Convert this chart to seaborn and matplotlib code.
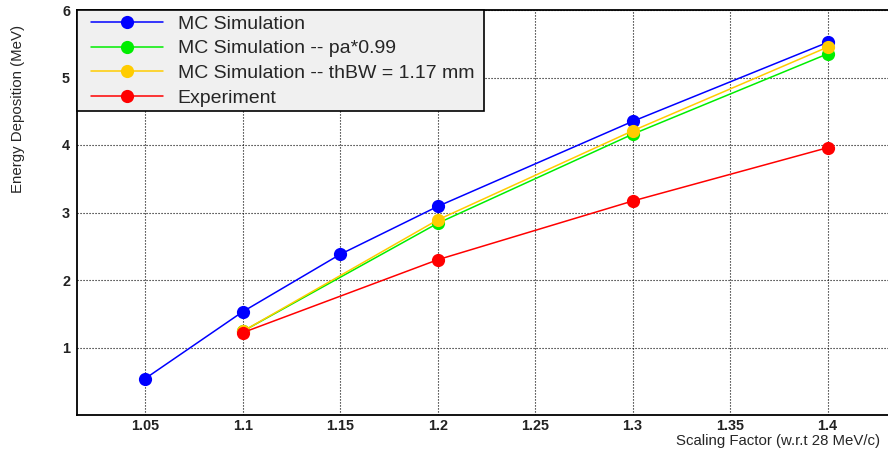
import numpy as np
import pandas as pd
import matplotlib
matplotlib.use("Agg")
import matplotlib.pyplot as plt
from matplotlib.lines import Line2D
from matplotlib.patches import Rectangle
from matplotlib.ticker import MultipleLocator
import seaborn as sns

# Energy deposition vs. momentum scaling factor
series_names = [
    "MC Simulation",
    "MC Simulation -- pa*0.99",
    "MC Simulation -- thBW = 1.17 mm",
    "Experiment",
]
series_colors = ["#0000ff", "#00ee00", "#ffcc00", "#ff0000"]

scale_mc = [1.05, 1.10, 1.15, 1.20, 1.30, 1.40]
edep_mc = [0.54, 1.53, 2.38, 3.09, 4.35, 5.52]

scale_pa = [1.10, 1.20, 1.30, 1.40]
edep_pa = [1.24, 2.84, 4.16, 5.35]

scale_thbw = [1.10, 1.20, 1.30, 1.40]
edep_thbw = [1.24, 2.89, 4.21, 5.45]

scale_exp = [1.10, 1.20, 1.30, 1.40]
edep_exp = [1.22, 2.30, 3.17, 3.96]

frames = []
for name, xs, ys in zip(series_names,
                        [scale_mc, scale_pa, scale_thbw, scale_exp],
                        [edep_mc, edep_pa, edep_thbw, edep_exp]):
    frames.append(pd.DataFrame({"scale": xs, "edep": ys, "series": name}))
df = pd.concat(frames, ignore_index=True)

sns.set_style("white")
plt.rcParams["font.family"] = ["Liberation Sans", "DejaVu Sans"]

W, H = 888, 454
fig = plt.figure(figsize=(W / 100, H / 100), dpi=100)
ax = fig.add_axes([77 / W, 39 / H, 811 / W, 405 / H])

palette = dict(zip(series_names, series_colors))
sns.lineplot(data=df, x="scale", y="edep", hue="series", hue_order=series_names,
             palette=palette, marker="o", markersize=9.5, markeredgewidth=0,
             linewidth=1.1, legend=False, ax=ax, zorder=3)

ax.set_xlim(1.015, 1.431)
ax.set_ylim(0, 6)

ax.xaxis.set_minor_locator(MultipleLocator(0.01))
ax.yaxis.set_minor_locator(MultipleLocator(0.2))
ax.set_xticks([1.05, 1.1, 1.15, 1.2, 1.25, 1.3, 1.35, 1.4])
ax.set_xticklabels(["1.05", "1.1", "1.15", "1.2", "1.25", "1.3", "1.35", "1.4"])
ax.set_yticks([1, 2, 3, 4, 5, 6])
ax.set_yticklabels(["1", "2", "3", "4", "5", "6"])

ax.tick_params(axis="both", which="both", direction="in", color="black",
               width=1.1, top=False, right=False)
ax.tick_params(axis="y", which="major", length=16.5, pad=5, labelsize=10.4)
ax.tick_params(axis="y", which="minor", length=8.5)
ax.tick_params(axis="x", which="major", length=10.8, pad=3, labelsize=10.4)
ax.tick_params(axis="x", which="minor", length=5)
for lab in ax.get_xticklabels() + ax.get_yticklabels():
    lab.set_fontweight("bold")
    lab.set_color("#222222")

ax.grid(True, which="major", color="black", linestyle=(0, (1, 1.7)), linewidth=0.8)
ax.set_axisbelow(True)

for side in ["left", "bottom", "top"]:
    ax.spines[side].set_color("black")
    ax.spines[side].set_linewidth(1.3)
ax.spines["right"].set_visible(False)

ax.set_xlabel("Scaling Factor (w.r.t 28 MeV/c)", fontsize=10.8)
ax.xaxis.label.set_ha("right")
ax.xaxis.label.set_va("center")
ax.xaxis.set_label_coords((880 - 77) / 811, -(441 - 415) / 405)

ax.set_ylabel("Energy Deposition (MeV)", fontsize=10.8)
ax.yaxis.label.set_rotation_mode("anchor")
ax.yaxis.label.set_ha("right")
ax.yaxis.label.set_va("center")
ax.yaxis.set_label_coords(-(77 - 18) / 811, (415 - 25) / 405)

# legend box
ax.add_patch(Rectangle((0, (415 - 111) / 405), (484 - 77) / 811, (111 - 10) / 405,
                       transform=ax.transAxes, facecolor="#f0f0f0",
                       edgecolor="black", linewidth=1.2, zorder=4.5,
                       clip_on=False))
handles = [Line2D([], [], color=c, marker="o", markersize=9.5, markeredgewidth=0,
                  linewidth=1.1) for c in series_colors]
leg = ax.legend(handles, series_names, loc="upper left",
                bbox_to_anchor=((91 - 77) / 811, 1 - 5 / 405),
                frameon=False, fontsize=14, borderpad=0, borderaxespad=0,
                handlelength=3.7, handletextpad=0.75, labelspacing=0.37)
leg.set_zorder(5)

fig.savefig("out.png", dpi=100)
